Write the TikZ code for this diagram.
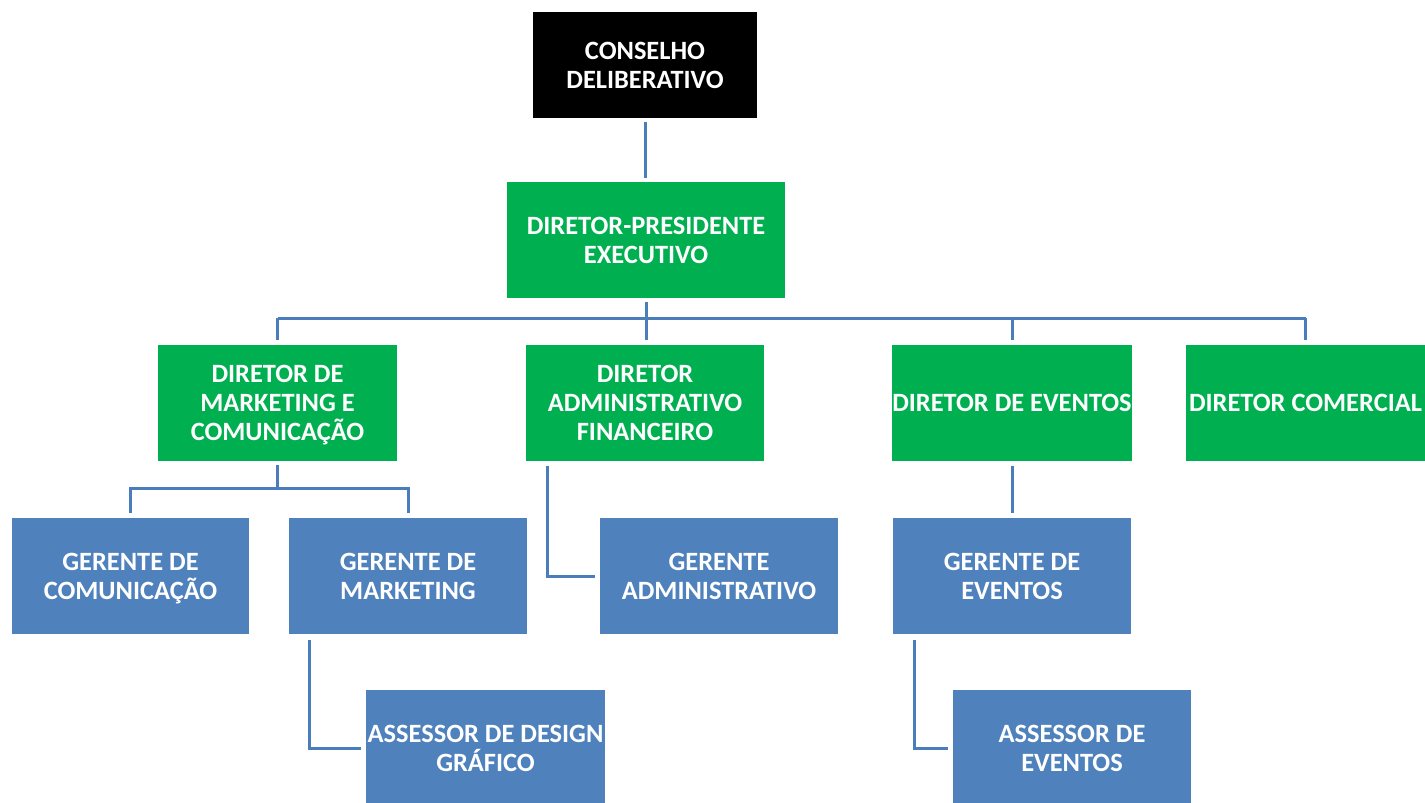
\documentclass[tikz,border=0pt]{standalone}
\usepackage{fontspec}
\setmainfont{Carlito}
\usetikzlibrary{calc}
\definecolor{boxgreen}{HTML}{00B050}
\definecolor{boxblue}{HTML}{4F81BD}
\definecolor{linecol}{HTML}{4A7EBB}
\tikzset{
  box/.style={rectangle, inner sep=0pt, align=center, text=white,
    font=\fontsize{26.4}{29}\selectfont\bfseries},
  blackbox/.style={box, fill=black, minimum width=224pt, minimum height=106pt},
  greenbox/.style={box, fill=boxgreen, minimum width=238pt, minimum height=116pt},
  bluebox/.style={box, fill=boxblue, minimum width=238pt, minimum height=116pt},
  conn/.style={draw=linecol, line width=3pt}
}
\begin{document}
\begin{tikzpicture}[x=1pt,y=-1pt]
\useasboundingbox[fill=white] (0,0) rectangle (1425,803);
% nodes
\node[blackbox] (cons) at (645,65) {CONSELHO\\DELIBERATIVO};
\node[greenbox, minimum width=278pt] (pres) at (646,240) {DIRETOR-PRESIDENTE\\EXECUTIVO};
\node[greenbox, minimum width=239pt] (dmc) at (277.5,403) {DIRETOR DE\\MARKETING E\\\smash{COMUNICAÇÃO}};
\node[greenbox] (dadm) at (645,403) {DIRETOR\\ADMINISTRATIVO\\FINANCEIRO};
\node[greenbox] (dev) at (1012,403) {DIRETOR DE EVENTOS};
\node[greenbox, minimum width=239pt] (dcom) at (1305.5,403) {DIRETOR COMERCIAL};
\node[bluebox, minimum width=237pt] (gcom) at (130.5,576) {GERENTE DE\\\smash{COMUNICAÇÃO}};
\node[bluebox] (gmkt) at (408,576) {GERENTE DE\\MARKETING};
\node[bluebox] (gadm) at (719,576) {GERENTE\\ADMINISTRATIVO};
\node[bluebox] (gev) at (1012,576) {GERENTE DE\\EVENTOS};
\node[bluebox, minimum width=239pt] (ades) at (485.5,748) {ASSESSOR DE DESIGN\\GRÁFICO};
\node[bluebox] (aev) at (1072,748) {ASSESSOR DE\\EVENTOS};
% bus coordinates
\coordinate (bus) at (645,318);
\coordinate (mj) at (277,488);
% connectors
\draw[conn, shorten <=4pt, shorten >=4pt] (cons.south) -- (cons.south |- pres.north);
\draw[conn, shorten <=4pt, shorten >=5pt] (pres.south) -- (pres.south |- dadm.north);
\draw[conn] (dmc.north |- bus) -- (dcom.north |- bus);
\draw[conn, shorten >=5pt] (dmc.north |- bus) -- (dmc.north);
\draw[conn, shorten >=5pt] (dev.north |- bus) -- (dev.north);
\draw[conn, shorten >=5pt] (dcom.north |- bus) -- (dcom.north);
\draw[conn, shorten <=4pt] (dmc.south) -- (dmc.south |- mj);
\draw[conn, shorten <=5pt, shorten >=5pt] (gcom.north) -- (gcom.north |- mj) -| (gmkt.north);
\draw[conn] ($(dadm.south west)+(22,5)$) |- ($(gadm.west)+(-5,0)$);
\draw[conn, shorten <=5pt, shorten >=5pt] (dev.south) -- (gev.north);
\draw[conn] ($(gmkt.south west)+(21,6)$) |- ($(ades.west)+(-5,0)$);
\draw[conn] ($(gev.south west)+(22,6)$) |- ($(aev.west)+(-5,0)$);
\end{tikzpicture}
\end{document}
